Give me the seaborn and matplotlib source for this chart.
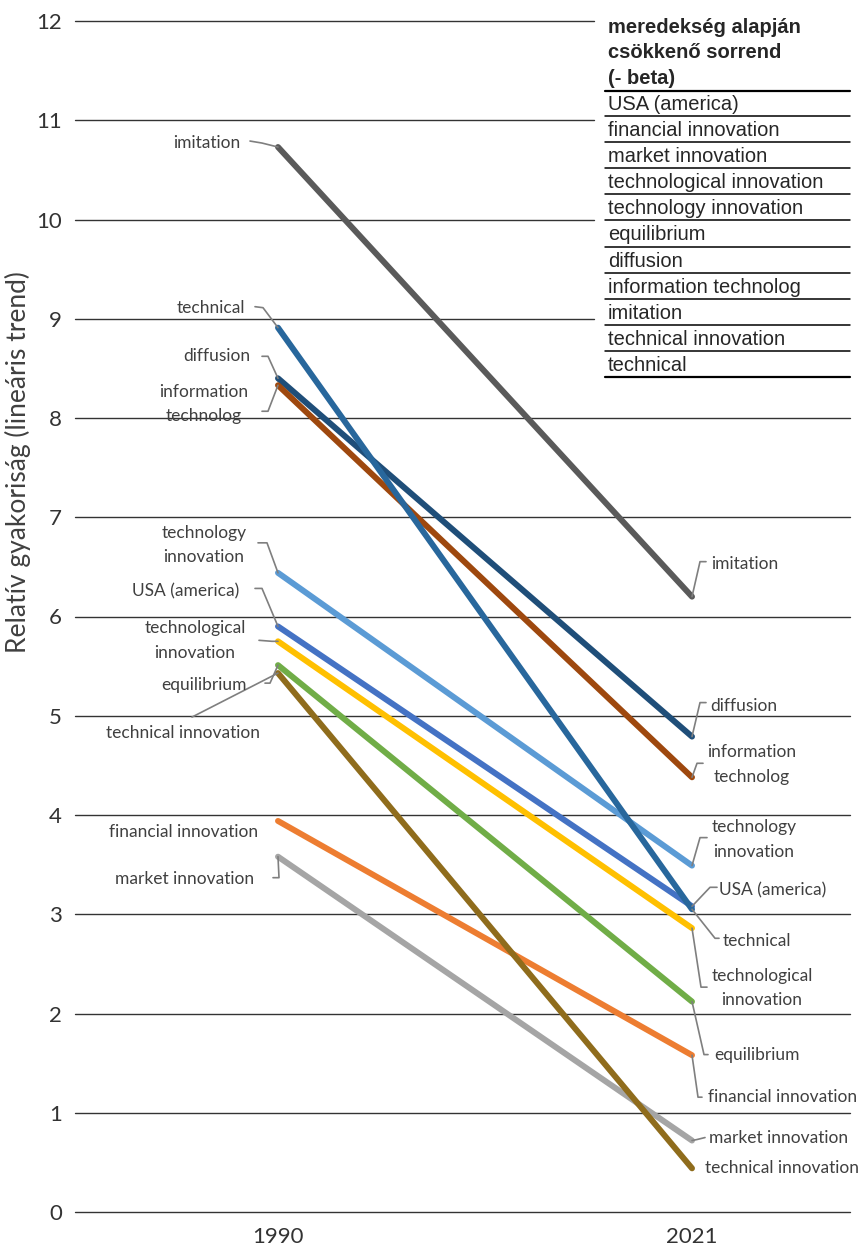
"""
Slope chart: relative frequency (linear trend) of terms, 1990 vs 2021.
"""

import matplotlib
matplotlib.use('Agg')
import matplotlib.pyplot as plt
import matplotlib.transforms as mtransforms
from matplotlib.lines import Line2D
import seaborn as sns
import pandas as pd

# Data (series order = drawing order)
terms = [
    'USA (america)', 'financial innovation', 'market innovation',
    'technological innovation', 'technology innovation', 'equilibrium',
    'diffusion', 'information technolog', 'imitation',
    'technical innovation', 'technical',
]
years = [1990, 2021]
values_1990 = [5.90, 3.94, 3.58, 5.75, 6.44, 5.51, 8.40, 8.33, 10.73, 5.43, 8.91]
values_2021 = [3.08, 1.58, 0.72, 2.86, 3.49, 2.12, 4.79, 4.38, 6.20, 0.44, 3.05]
colors = ['#4472C4', '#ED7D31', '#A5A5A5', '#FFC000', '#5B9BD5', '#70AD47',
          '#1F4E79', '#9E480E', '#5A5A5A', '#8F6C1C', '#28679C']

# sorted list shown in the table (by slope)
table_title = ['meredekség alapján', 'csökkenő sorrend', '(- beta)']
table_rows = terms

# label layout: text offset (dx, dy) in pixels (dy downward), text alignment,
# and leader polyline relative to the data point
left_labels = {
    'imitation': ((-38, -4), 'right', [(-28, -6), (-16, -4), (0, 0)]),
    'technical': ((-33, -20), 'right', [(-23, -21), (-15, -20), (0, 0)]),
    'diffusion': ((-28, -22), 'right', [(-16, -22), (-10, -22), (0, 0)]),
    'information technolog': ((-74, 19), 'center', [(-16, 26), (-10, 26), (0, 0)]),
    'technology innovation': ((-74, -28), 'center', [(-20, -30), (-11, -30), (0, 0)]),
    'USA (america)': ((-39, -35), 'right', [(-23, -38), (-16, -38), (0, 0)]),
    'technological innovation': ((-83, -1), 'center', [(-19, -1), (-6, 0), (0, 0)]),
    'equilibrium': ((-31, 20), 'right', [(-13, 18), (-8, 18), (0, 0)]),
    'technical innovation': ((-95, 60), 'center', [(-86, 44), (0, 0)]),
    'financial innovation': ((-20, 11), 'right', None),
    'market innovation': ((-24, 22), 'right', [(-5, 21), (1, 21), (0, 0)]),
}
right_labels = {
    'imitation': ((19, -33), 'left', [(14, -35), (8, -35), (0, 0)]),
    'diffusion': ((18, -31), 'left', [(14, -34), (8, -34), (0, 0)]),
    'information technolog': ((60, -13), 'center', [(11, -14), (5, -14), (0, 0)]),
    'technology innovation': ((62, -26), 'center', [(15, -28), (8, -28), (0, 0)]),
    'USA (america)': ((27, -16), 'left', [(25, -19), (18, -19), (0, 0)]),
    'technical': ((31, 32), 'left', [(27, 29), (23, 29), (0, 0)]),
    'technological innovation': ((70, 60), 'center', [(15, 59), (9, 59), (0, 0)]),
    'equilibrium': ((22, 53), 'left', [(16, 53), (12, 53), (0, 0)]),
    'financial innovation': ((16, 42), 'left', [(10, 42), (6, 42), (0, 0)]),
    'market innovation': ((17, -3), 'left', [(13, -3), (5, -1), (0, 0)]),
    'technical innovation': ((13, 0), 'left', None),
}

# two-line labels
wrap = {
    'information technolog': 'information\ntechnolog',
    'technology innovation': 'technology\ninnovation',
    'technological innovation': 'technological\ninnovation',
}

df = pd.DataFrame({
    'term': terms * 2,
    'year': [years[0]] * len(terms) + [years[1]] * len(terms),
    'value': values_1990 + values_2021,
})

sns.set_style('white')
plt.rcParams['font.family'] = ['Lato', 'DejaVu Sans']

W, H = 859, 1255
fig = plt.figure(figsize=(W / 100, H / 100), dpi=100)
ax = fig.add_axes([75 / W, 1 - 1212 / H, 775 / W, (1212 - 21) / H])

ax.set_xlim(1974.8, 2032.83)
ax.set_ylim(0, 12)

# gridlines (upper ones stop before the table)
for v in range(13):
    ax.axhline(v, xmax=0.67 if v >= 9 else 1.0, color='#333333', lw=1.0,
               clip_on=False, zorder=0)

sns.lineplot(data=df, x='year', y='value', hue='term', hue_order=terms,
             palette=dict(zip(terms, colors)), linewidth=4.3, legend=False,
             solid_capstyle='round', ax=ax)

for sp in ax.spines.values():
    sp.set_visible(False)
ax.set_yticks(range(13))
ax.set_xticks(years)
ax.set_xlabel('')
ax.set_ylabel('')
ax.tick_params(axis='y', length=0, pad=9.5, labelsize=16, labelcolor='#333333')
ax.tick_params(axis='x', length=0, pad=11, labelsize=16, labelcolor='#333333')


def add_label(x, v, name, spec):
    (dx, dy), ha, leader = spec
    ax.annotate(wrap.get(name, name), xy=(x, v), xytext=(dx, -dy),
                textcoords='offset pixels', ha=ha, va='center',
                multialignment='center', fontsize=12.5, color='#404040',
                linespacing=1.65, annotation_clip=False)
    if leader:
        trans = mtransforms.Affine2D().scale(1, -1) + \
            mtransforms.ScaledTranslation(x, v, ax.transData)
        ax.plot([p[0] for p in leader], [p[1] for p in leader], transform=trans,
                color='#7f7f7f', lw=1.2, clip_on=False, scalex=False, scaley=False)


for name, v0, v1 in zip(terms, values_1990, values_2021):
    add_label(years[0], v0, name, left_labels[name])
    add_label(years[1], v1, name, right_labels[name])

# y axis title
fig.text(18 / W, 1 - 462 / H, 'Relatív gyakoriság (lineáris trend)', rotation=90,
         ha='center', va='center', fontsize=19, color='#404040')

# table in the upper right corner
tx0, tx1 = 605, 850
for i, line in enumerate(table_title):
    fig.text(608 / W, 1 - (33 + 25.5 * i) / H, line, va='baseline',
             fontfamily='Liberation Sans', fontweight='bold', fontsize=14.5)
fig.add_artist(Line2D([tx0 / W, tx1 / W], [1 - 90.7 / H] * 2, color='black', lw=1.6))
for i, row in enumerate(table_rows):
    fig.text(608 / W, 1 - (110 + 26.1 * i) / H, row, va='baseline',
             fontfamily='Liberation Sans', fontsize=14.5)
    yl = 116 + 26.1 * i
    lw = 1.6 if i == len(table_rows) - 1 else 1.1
    fig.add_artist(Line2D([tx0 / W, tx1 / W], [1 - yl / H] * 2, color='black', lw=lw))

plt.savefig('out.png', dpi=100)
